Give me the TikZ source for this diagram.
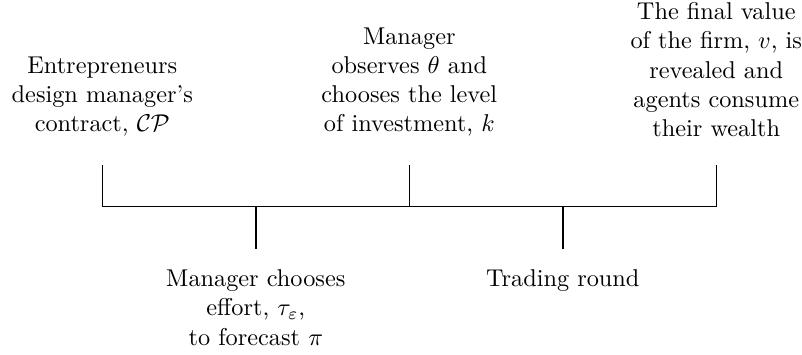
\documentclass[tikz,border=0pt]{standalone}
\usetikzlibrary{positioning}
\tikzstyle{event} = [align=center, inner sep=3.33pt]
\tikzstyle{axisline} = [semithick]

\begin{document}
\begin{tikzpicture}
  \useasboundingbox (-1.48,-2.14) rectangle (10.12,2.99);
  % 时间轴
  \coordinate (a1) at (0,0);
  \coordinate (a2) at (2.22,0);
  \coordinate (a3) at (4.44,0);
  \coordinate (a4) at (6.66,0);
  \coordinate (a5) at (8.88,0);
  \coordinate (b1) at (0,0.61);
  \coordinate (b3) at (4.44,0.61);
  \coordinate (b5) at (8.88,0.61);
  \coordinate (c2) at (2.22,-0.61);
  \coordinate (c4) at (6.66,-0.61);

  \draw[axisline] (a1) -- (a5);
  \draw[axisline] (a1) -- (b1);
  \draw[axisline] (a3) -- (b3);
  \draw[axisline] (a5) -- (b5);
  \draw[axisline] (a2) -- (c2);
  \draw[axisline] (a4) -- (c4);

  % 事件
  \node[event, above=0.28cm of b1] (e1) {Entrepreneurs\\design manager's\\contract, $\mathcal{CP}$};
  \node[event, above=0.28cm of b3] (e3) {Manager\\observes $\theta$ and\\chooses the level\\of investment, $k$};
  \node[event, above=0.28cm of b5] (e5) {The final value\\of the firm, $v$, is\\revealed and\\agents consume\\their wealth};
  \node[event, below=0.18cm of c2] (e2) {Manager chooses\\effort, $\tau_\varepsilon$,\\to forecast $\pi$};
  \node[event, below=0.18cm of c4] (e4) {Trading round};
\end{tikzpicture}
\end{document}
